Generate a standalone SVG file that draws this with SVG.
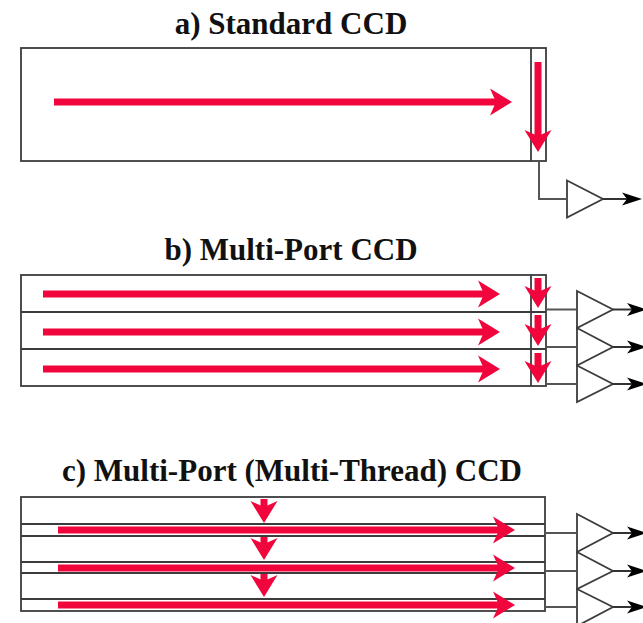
<svg xmlns="http://www.w3.org/2000/svg" width="643" height="623" viewBox="0 0 643 623">
  <style>
    .title { font-family: "Liberation Serif", "Times New Roman", serif; font-weight: bold; font-size: 31px; fill: #111; text-anchor: middle; }
    .box { fill: #fff; stroke: #3c3c3c; stroke-width: 1.8; }
    .ln { fill: none; stroke: #3c3c3c; stroke-width: 1.8; }
    .wire { fill: none; stroke: #555; stroke-width: 2; }
    .amp { fill: #fff; stroke: #3c3c3c; stroke-width: 1.8; stroke-linejoin: miter; }
    .flow { fill: none; stroke: #f0063c; stroke-width: 7; marker-end: url(#rh); }
    .out { fill: none; stroke: #333; stroke-width: 2; marker-end: url(#bh); }
  </style>
  <defs>
    <marker id="rh" markerUnits="userSpaceOnUse" markerWidth="24" markerHeight="30" viewBox="0 -15 24 30" refX="8" refY="0" orient="auto">
      <path d="M0,-13.5 L22,0 L0,13.5 L6,0 Z" fill="#f0063c"/>
    </marker>
    <marker id="bh" markerUnits="userSpaceOnUse" markerWidth="22" markerHeight="16" viewBox="0 -8 22 16" refX="6" refY="0" orient="auto">
      <path d="M0,-6.5 L20,0 L0,6.5 L5,0 Z" fill="#000"/>
    </marker>
  </defs>

  <!-- a) Standard CCD -->
  <text class="title" x="291" y="34">a) Standard CCD</text>
  <g id="ccd-a">
    <rect class="box" x="21" y="48" width="525" height="113"/>
    <line class="ln" x1="531" y1="48" x2="531" y2="161"/>
  </g>
  <g id="amp-a">
    <polygon class="amp" points="567,180.5 603,199 567,217.5"/>
  </g>

  <!-- b) Multi-Port CCD -->
  <text class="title" x="291" y="260">b) Multi-Port CCD</text>
  <g id="ccd-b">
    <rect class="box" x="21" y="275" width="525" height="111"/>
    <line class="ln" x1="21" y1="312" x2="546" y2="312"/>
    <line class="ln" x1="21" y1="349" x2="546" y2="349"/>
    <line class="ln" x1="531" y1="275" x2="531" y2="386"/>
  </g>
  <g id="amp-b1"><polygon class="amp" points="577,291 613,309.5 577,328"/></g>
  <g id="amp-b2"><polygon class="amp" points="577,328 613,347 577,365.5"/></g>
  <g id="amp-b3"><polygon class="amp" points="577,365.5 613,384 577,402"/></g>

  <!-- c) Multi-Port (Multi-Thread) CCD -->
  <text class="title" x="292" y="481">c) Multi-Port (Multi-Thread) CCD</text>
  <g id="ccd-c">
    <rect class="box" x="21" y="497" width="524" height="114"/>
    <line class="ln" x1="21" y1="524" x2="545" y2="524"/>
    <line class="ln" x1="21" y1="536" x2="545" y2="536"/>
    <line class="ln" x1="21" y1="562" x2="545" y2="562"/>
    <line class="ln" x1="21" y1="573" x2="545" y2="573"/>
    <line class="ln" x1="21" y1="599" x2="545" y2="599"/>
  </g>
  <g id="amp-c1"><polygon class="amp" points="577,514 613,533 577,552"/></g>
  <g id="amp-c2"><polygon class="amp" points="577,552 613,571 577,589"/></g>
  <g id="amp-c3"><polygon class="amp" points="577,589 613,607 577,626"/></g>

  <g id="connectors">
    <!-- charge transfer arrows -->
    <line class="flow" x1="54" y1="102" x2="498" y2="102"/>
    <line class="flow" x1="538" y1="62" x2="538" y2="138"/>

    <line class="flow" x1="43" y1="294" x2="486" y2="294"/>
    <line class="flow" x1="43" y1="332" x2="486" y2="332"/>
    <line class="flow" x1="43" y1="369" x2="486" y2="369"/>
    <line class="flow" x1="538" y1="278" x2="538" y2="294"/>
    <line class="flow" x1="538" y1="315" x2="538" y2="332"/>
    <line class="flow" x1="538" y1="353" x2="538" y2="369"/>

    <line class="flow" x1="58" y1="530" x2="501" y2="530"/>
    <line class="flow" x1="58" y1="568" x2="501" y2="568"/>
    <line class="flow" x1="58" y1="605" x2="501" y2="605"/>
    <line class="flow" x1="264" y1="499" x2="264" y2="509"/>
    <line class="flow" x1="264" y1="537" x2="264" y2="546"/>
    <line class="flow" x1="264" y1="574" x2="264" y2="583"/>

    <!-- wires to amplifiers -->
    <polyline class="wire" points="539,161 539,199 567,199"/>
    <line class="wire" x1="546" y1="309.5" x2="577" y2="309.5"/>
    <line class="wire" x1="546" y1="347" x2="577" y2="347"/>
    <line class="wire" x1="546" y1="384" x2="577" y2="384"/>
    <line class="wire" x1="545" y1="533" x2="577" y2="533"/>
    <line class="wire" x1="545" y1="571" x2="577" y2="571"/>
    <line class="wire" x1="545" y1="607" x2="577" y2="607"/>

    <!-- outputs -->
    <line class="out" x1="603" y1="199" x2="628" y2="199"/>
    <line class="out" x1="613" y1="309.5" x2="633" y2="309.5"/>
    <line class="out" x1="613" y1="347" x2="633" y2="347"/>
    <line class="out" x1="613" y1="384" x2="633" y2="384"/>
    <line class="out" x1="613" y1="533" x2="633" y2="533"/>
    <line class="out" x1="613" y1="571" x2="633" y2="571"/>
    <line class="out" x1="613" y1="607" x2="633" y2="607"/>
  </g>
</svg>
